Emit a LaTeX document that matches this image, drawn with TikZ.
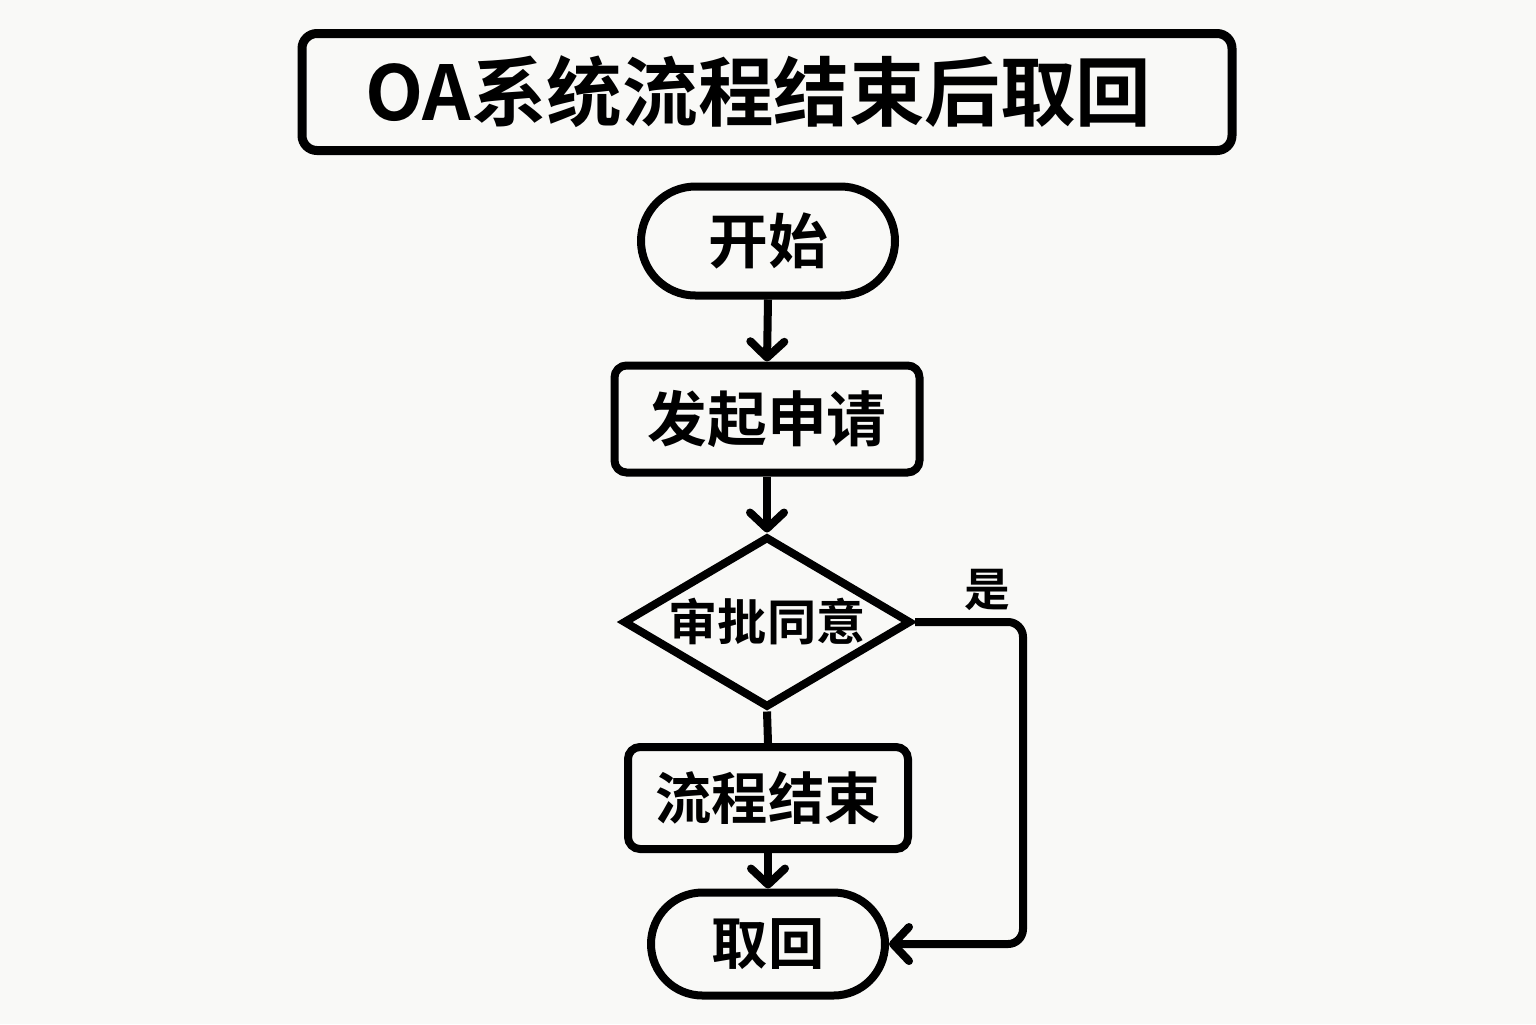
\documentclass[tikz,border=0pt]{standalone}
\usepackage{fontspec}
\setmainfont{Noto Sans CJK SC}[BoldFont={Noto Sans CJK SC Bold}]
\usepackage{xcolor}
\usetikzlibrary{shapes.misc,shapes.geometric,arrows.meta}
\definecolor{paper}{RGB}{249,249,247}
\tikzset
  {box/.style={rectangle, rounded corners=0.12cm, draw=black, line width=0.08cm, fill=paper, inner sep=0pt, font=\bfseries},
   pill/.style={rounded rectangle, draw=black, line width=0.08cm, fill=paper, inner sep=0pt, font=\bfseries},
   decide/.style={diamond, aspect=1.66, draw=black, line width=0.08cm, fill=paper, inner sep=0pt, font=\bfseries},
   flow/.style={draw=black, line width=0.08cm, -{Straight Barb[length=0.16cm,width=0.34cm,round]}}}
\newcommand{\lab}[2]{\fontsize{#1}{#1}\selectfont #2}

\begin{document}
\begin{tikzpicture}[every node/.style={text=black}]
 \fill[paper] (0,0) rectangle (15.36,-10.24);
 \useasboundingbox (0,0) rectangle (15.36,-10.24);

 \draw (7.67,-0.92)  node[box,rounded corners=0.15cm,minimum width=9.30cm,minimum height=1.17cm,line width=0.09cm] (T)
              {\lab{21.5pt}{OA系统流程结束后取回}~~};

 \draw (7.68,-2.41)  node[pill,minimum width=2.54cm,minimum height=1.09cm] (S)
              {\lab{17pt}{开始}};

 \draw (7.67,-4.19)  node[box,minimum width=3.05cm,minimum height=1.07cm] (A)
              {\lab{17pt}{发起申请}};

 \draw (7.67,-6.22)  node[decide,minimum width=2.88cm,minimum height=1.71cm] (D)
              {\lab{14pt}{审批同意}};

 \draw (7.68,-7.98)  node[box,minimum width=2.80cm,minimum height=1.02cm] (E)
              {\lab{16pt}{流程结束}};

 \draw (7.68,-9.44)  node[pill,minimum width=2.34cm,minimum height=1.03cm] (R)
              {\lab{16pt}{取回}};

 \draw (9.87,-5.90)  node[font=\bfseries] (Y) {\lab{13pt}{是}};
 \coordinate (C) at (10.23,-9.44);

 \draw[flow] (S.south) -- (A.north);
 \draw[flow] (A.south) -- (D.north);
 \draw[draw=black,line width=0.08cm] (D.south) -- (E.north);
 \draw[flow] (E.south) -- (R.north);
 \draw[flow,rounded corners=0.15cm] (D.east) -| (C) -- (R.east);
\end{tikzpicture}
\end{document}
